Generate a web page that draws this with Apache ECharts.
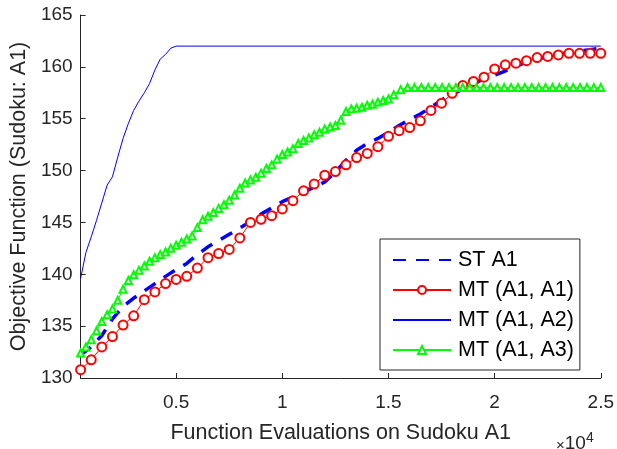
<!DOCTYPE html>
<html>
<head>
<meta charset="utf-8">
<script src="https://cdn.jsdelivr.net/npm/echarts@6/dist/echarts.min.js"></script>
<style>
  html, body { margin: 0; padding: 0; background: #fff; }
  #chart { width: 617px; height: 449px; }
</style>
</head>
<body>
<div id="chart"></div>
<script>
// ---- data ----
var seriesNames = ['ST A1', 'MT (A1, A1)', 'MT (A1, A2)', 'MT (A1, A3)'];

var evalsX = [500,1000,1500,2000,2500,3000,3500,4000,4500,5000,
  5500,6000,6500,7000,7500,8000,8500,9000,9500,10000,
  10500,11000,11500,12000,12500,13000,13500,14000,14500,15000,
  15500,16000,16500,17000,17500,18000,18500,19000,19500,20000,
  20500,21000,21500,22000,22500,23000,23500,24000,24500,25000];

var stA1 = [132.2,133.0,134.1,135.7,136.9,137.7,138.4,139.1,139.8,140.45,
  141.05,141.9,142.65,143.25,143.85,144.45,145.1,145.8,146.4,147.0,
  147.45,147.9,148.4,148.9,149.85,151.0,151.95,152.6,153.1,153.7,
  154.35,154.9,155.45,156.1,156.8,157.35,157.85,158.35,158.85,159.2,
  159.6,160.05,160.45,160.75,161.0,161.2,161.4,161.55,161.65,161.8];

var mtA1A1 = [130.8,131.75,133.0,134.0,135.1,136.0,137.55,138.3,139.1,139.5,
  139.8,140.6,141.6,142.0,142.4,143.5,145.0,145.3,145.65,146.3,
  147.1,148.05,148.7,149.55,149.9,150.55,151.25,151.65,152.3,153.3,
  153.85,154.15,154.8,155.8,156.5,157.45,158.2,158.6,159.0,159.8,
  160.2,160.35,160.6,160.9,161.0,161.15,161.3,161.3,161.3,161.3];

var a2X = [500,750,1000,1250,1500,1750,2000,2250,2500,2750,
  3000,3250,3500,3750,4000,4250,4500,4750,5000,25000];
var mtA1A2 = [139.6,142.1,143.6,145.2,146.9,148.6,149.4,151.3,153.1,154.55,
  155.8,156.7,157.5,158.4,159.7,160.75,161.2,161.8,162.0,162.0];

var a3X = [500,750,1000,1250,1500,1750,2000,2250,2500,2750,
  3000,3250,3500,3750,4000,4250,4500,4750,5000,5250,
  5500,5750,6000,6250,6500,6750,7000,7250,7500,7750,
  8000,8250,8500,8750,9000,9250,9500,9750,10000,10250,
  10500,10750,11000,11250,11500,11750,12000,12250,12500,12750,
  13000,13250,13500,13750,14000,14250,14500,14750,15000,15250,
  15575,15900,16225,16550,16875,17200,17525,17850,18175,18500,
  18825,19150,19475,19800,20125,20450,20775,21100,21425,21750,
  22075,22400,22725,23050,23375,23700,24025,24350,24675,25000];
var mtA1A3 = [132.4,133.0,133.7,134.55,135.45,136.1,136.65,137.5,138.55,139.4,
  139.95,140.4,140.8,141.25,141.6,141.9,142.15,142.5,142.8,143.1,
  143.4,143.7,144.5,145.25,145.6,145.95,146.35,146.7,147.15,147.65,
  148.3,148.8,149.1,149.35,149.75,150.2,150.55,151.1,151.55,151.8,
  152.1,152.6,152.9,153.15,153.45,153.7,154.0,154.2,154.35,154.85,
  155.7,155.95,156.0,156.1,156.3,156.4,156.6,156.75,156.9,157.3,
  157.8,158.0,158.0,158.0,158.0,158.0,158.0,158.0,158.0,158.0,
  158.0,158.0,158.0,158.0,158.0,158.0,158.0,158.0,158.0,158.0,
  158.0,158.0,158.0,158.0,158.0,158.0,158.0,158.0,158.0,158.0];

var xTicks = [5000, 10000, 15000, 20000, 25000];
var xTitle = 'Function Evaluations on Sudoku A1';
var yTitle = 'Objective Function (Sudoku: A1)';

function pairs(xs, ys) { return xs.map(function (x, i) { return [x, ys[i]]; }); }

var FONT = '"Liberation Sans", Arial, Helvetica, sans-serif';
var INK = '#262626';
var noMarker = { color: 'rgba(0,0,0,0)', borderColor: 'rgba(0,0,0,0)', borderWidth: 0, opacity: 0 };

var chart = echarts.init(document.getElementById('chart'), null, { renderer: 'canvas' });
chart.setOption({
  animation: false,
  backgroundColor: '#ffffff',
  grid: { left: 79, right: 15, top: 15, bottom: 60, containLabel: false },
  xAxis: {
    type: 'value', min: 500, max: 25000,
    name: xTitle, nameLocation: 'middle', nameGap: 44,
    nameTextStyle: { fontFamily: FONT, fontSize: 21.5, color: INK },
    axisLine: { lineStyle: { color: INK, width: 1 } },
    axisTick: { inside: true, length: 5, customValues: xTicks, lineStyle: { color: INK } },
    axisLabel: { customValues: xTicks, margin: 15, fontFamily: FONT, fontSize: 19, color: INK,
      formatter: function (v) { return String(v / 10000); } },
    splitLine: { show: false }
  },
  yAxis: {
    type: 'value', min: 130, max: 165, interval: 5,
    name: yTitle, nameLocation: 'middle', nameGap: 50, nameRotate: 90,
    nameTextStyle: { fontFamily: FONT, fontSize: 21.5, color: INK },
    axisLine: { show: true, lineStyle: { color: INK, width: 1 } },
    axisTick: { show: true, inside: true, length: 5, lineStyle: { color: INK } },
    axisLabel: { margin: 8, fontFamily: FONT, fontSize: 19, color: INK },
    splitLine: { show: false }
  },
  legend: {
    left: 380, top: 239, orient: 'vertical',
    padding: [10, 6, 9, 12],
    itemWidth: 58, itemHeight: 10, itemGap: 8,
    borderColor: INK, borderWidth: 1, backgroundColor: '#ffffff',
    textStyle: { fontFamily: FONT, fontSize: 21.5, color: '#000000', padding: [0, 0, 0, 2] },
    data: [
      { name: seriesNames[0], itemStyle: noMarker },
      { name: seriesNames[1] },
      { name: seriesNames[2], itemStyle: noMarker },
      { name: seriesNames[3] }
    ]
  },
  series: [
    { name: seriesNames[0], type: 'line', data: pairs(evalsX, stA1),
      symbol: 'none', lineStyle: { color: '#0000ff', width: 3.5, type: [13, 10] },
      itemStyle: { color: '#0000ff' }, z: 2 },
    { name: seriesNames[1], type: 'line', data: pairs(evalsX, mtA1A1),
      symbol: 'emptyCircle', symbolSize: 9, showAllSymbol: true,
      lineStyle: { color: '#ff0000', width: 1 },
      itemStyle: { color: '#ff0000', borderColor: '#ff0000', borderWidth: 1.5 }, z: 3 },
    { name: seriesNames[2], type: 'line', data: pairs(a2X, mtA1A2),
      symbol: 'none', lineStyle: { color: '#0000ff', width: 1 },
      itemStyle: { color: '#0000ff' }, z: 4 },
    { name: seriesNames[3], type: 'line', data: pairs(a3X, mtA1A3),
      symbol: 'emptyTriangle', symbolSize: 7, showAllSymbol: true,
      lineStyle: { color: '#00ff00', width: 1 },
      itemStyle: { color: '#00ff00', borderColor: '#00ff00', borderWidth: 1.3 }, z: 5 }
  ],
  graphic: [{
    type: 'text', left: 556, top: 431,
    style: {
      text: '{m|×}{n|10}{s|4}',
      rich: {
        m: { fontFamily: FONT, fontSize: 15, fill: INK, verticalAlign: 'bottom' },
        n: { fontFamily: FONT, fontSize: 19, fill: INK, verticalAlign: 'bottom' },
        s: { fontFamily: FONT, fontSize: 14, fill: INK, verticalAlign: 'top', padding: [0, 0, 8, 0] }
      }
    }
  }]
});
</script>
</body>
</html>
